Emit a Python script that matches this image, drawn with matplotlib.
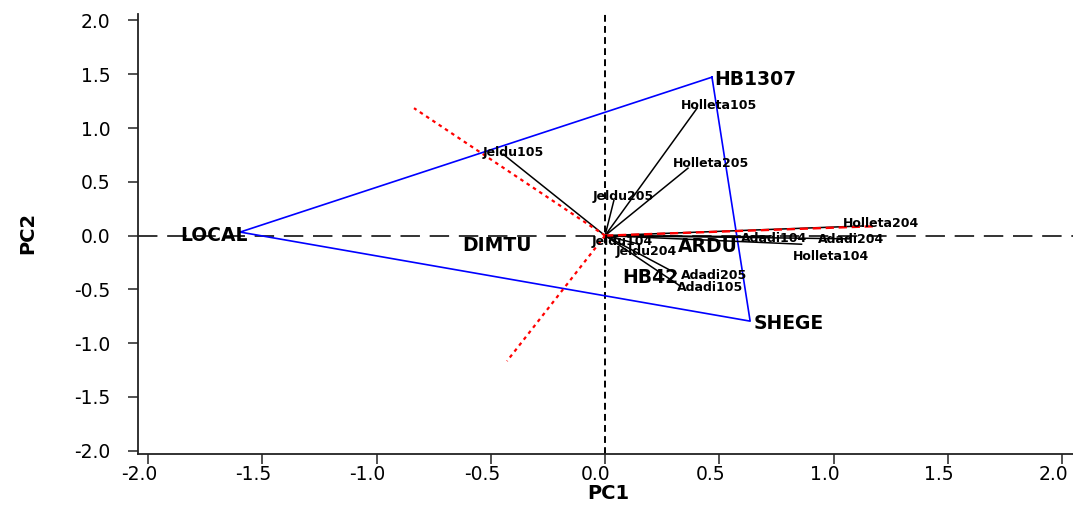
import matplotlib
matplotlib.use("Agg")
import matplotlib.pyplot as plt
import matplotlib.transforms as mtransforms
import numpy as np

# genotype scores (PC1, PC2)
genotypes = ["HB1307", "LOCAL", "SHEGE", "DIMTU", "ARDU", "HB42"]
gen_pc1 = [0.468, -1.597, 0.635, -0.473, 0.45, 0.197]
gen_pc2 = [1.473, 0.033, -0.795, -0.088, -0.098, -0.386]

# polygon vertices (index into genotypes)
hull = [0, 2, 1]

# environment vectors (PC1, PC2)
environments = ["Jeldu105", "Holleta105", "Holleta205", "Jeldu205", "Jeldu104", "Jeldu204",
                "Adadi205", "Adadi105", "Adadi104", "Adadi204", "Holleta104", "Holleta204"]
env_pc1 = [-0.446, 0.403, 0.363, 0.039, 0.066, 0.15, 0.31, 0.33, 0.72, 1.07, 0.86, 1.13]
env_pc2 = [0.757, 1.185, 0.627, 0.33, -0.03, -0.08, -0.35, -0.47, -0.01, -0.03, -0.08, 0.09]

# rays perpendicular to polygon sides
ray_pc1 = [1.19, -0.836, -0.429]
ray_pc2 = [0.088, 1.185, -1.166]

ticks = [-2.0, -1.5, -1.0, -0.5, 0.0, 0.5, 1.0, 1.5, 2.0]

# label placement, pixel offsets from the point (dx, dy up) and alignment
env_offset = {
    "Jeldu105": (10, 2), "Holleta105": (22, 3), "Holleta205": (23, 5), "Jeldu205": (9, 4),
    "Jeldu104": (2, -3), "Jeldu204": (7, -7), "Adadi205": (38, -2), "Adadi105": (30, -1),
    "Adadi104": (5, -2), "Adadi204": (2, -1), "Holleta104": (29, -12), "Holleta204": (18, 2),
}
gen_offset = {
    "HB1307": (2, -2, "left"), "LOCAL": (-26, -3, "center"), "SHEGE": (3, -2, "left"),
    "DIMTU": (0, 0, "center"), "ARDU": (0, 0, "center"), "HB42": (0, 0, "center"),
}

plt.rcParams["font.family"] = ["DejaVu Sans"]
plt.rcParams["axes.unicode_minus"] = False

fig = plt.figure(figsize=(10.73, 5.08), dpi=100)
ax = fig.add_axes([0.1286, 0.1063, 0.8714, 0.8661])
ax.set_xlim(-2.044, 2.048)
ax.set_ylim(-2.03, 2.06)

px = 0.72  # points per pixel

# reference axes through origin
ax.axhline(0, color="#333333", lw=1.4, ls=(0, (10, 5)), zorder=1)
ax.axvline(0, color="black", lw=1.4, ls=(0, (3.5, 2.2)), zorder=1)

# polygon
hx = [gen_pc1[i] for i in hull] + [gen_pc1[hull[0]]]
hy = [gen_pc2[i] for i in hull] + [gen_pc2[hull[0]]]
ax.plot(hx, hy, color="#0000ff", lw=1.2, zorder=2)

# environment vectors
for name, x, y in zip(environments, env_pc1, env_pc2):
    ax.plot([0, x], [0, y], color="black", lw=1.1, zorder=3)
    dx, dy = env_offset[name]
    ax.annotate(name, (x, y), xytext=(dx * px, dy * px), textcoords="offset points",
                ha="center", va="center", fontsize=9, fontweight="bold", zorder=5)

# rays
ax.plot([0, ray_pc1[0]], [0, ray_pc2[0]], color="red", lw=1.7, ls=(0, (3.5, 2.0)), zorder=4)
for x, y in zip(ray_pc1[1:], ray_pc2[1:]):
    ax.plot([0, x], [0, y], color="red", lw=1.6, ls=(0, (1.6, 1.8)), zorder=4)

# genotype labels
for name, x, y in zip(genotypes, gen_pc1, gen_pc2):
    dx, dy, ha = gen_offset[name]
    ax.annotate(name, (x, y), xytext=(dx * px, dy * px), textcoords="offset points",
                ha=ha, va="center", fontsize=13.5, fontweight="bold", zorder=6)

ax.set_xticks(ticks)
ax.set_yticks(ticks)
ax.set_xticklabels([f"{t:.1f}" for t in ticks])
ax.set_yticklabels([f"{t:.1f}" for t in ticks])
ax.tick_params(axis="both", direction="out", length=7, width=1.1, colors="#222222",
               labelsize=13.5, labelcolor="black")
ax.tick_params(axis="y", pad=13)
ax.tick_params(axis="x", pad=1)

# x tick labels sit a little left of their ticks in the reference
shift = mtransforms.ScaledTranslation(-9 / 100, 0, fig.dpi_scale_trans)
for lab in ax.get_xticklabels():
    lab.set_transform(lab.get_transform() + shift)

for side in ["top", "right"]:
    ax.spines[side].set_visible(False)
for side in ["left", "bottom"]:
    ax.spines[side].set_linewidth(1.3)
    ax.spines[side].set_color("#222222")

ax.set_xlabel("PC1", fontsize=14, fontweight="bold")
ax.set_ylabel("PC2", fontsize=14, fontweight="bold")
ax.xaxis.set_label_coords(0.503, -0.089)
ax.xaxis.label.set_va("center")
ax.yaxis.set_label_coords(-0.1176, 0.502)
ax.yaxis.label.set_va("center")

fig.savefig("out.png", dpi=100)
